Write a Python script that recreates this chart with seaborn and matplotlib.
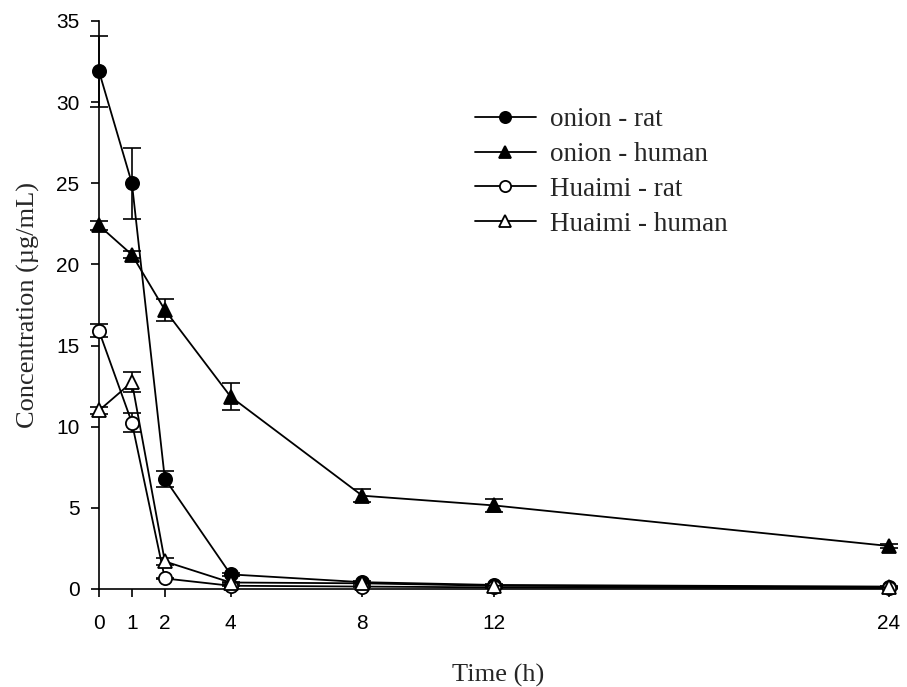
import numpy as np
import pandas as pd
import matplotlib
matplotlib.use("Agg")
import matplotlib.pyplot as plt
import seaborn as sns

# Sampling times (h)
time_h = [0, 1, 2, 4, 8, 12, 24]

# Mean plasma concentration (µg/mL) and SD for each group
onion_rat = [31.9, 25.0, 6.8, 0.9, 0.42, 0.25, 0.15]
onion_rat_sd = [2.2, 2.2, 0.5, 0.1, 0.05, 0.03, 0.02]

onion_human = [22.4, 20.6, 17.2, 11.85, 5.75, 5.15, 2.65]
onion_human_sd = [0.3, 0.2, 0.7, 0.85, 0.4, 0.4, 0.12]

huaimi_rat = [15.9, 10.25, 0.65, 0.2, 0.15, 0.1, 0.05]
huaimi_rat_sd = [0.4, 0.6, 0.05, 0.03, 0.02, 0.02, 0.01]

huaimi_human = [11.0, 12.75, 1.7, 0.4, 0.35, 0.2, 0.1]
huaimi_human_sd = [0.2, 0.6, 0.2, 0.05, 0.04, 0.03, 0.02]

labels = ["onion - rat", "onion - human", "Huaimi - rat", "Huaimi - human"]
series = [onion_rat, onion_human, huaimi_rat, huaimi_human]
sds = [onion_rat_sd, onion_human_sd, huaimi_rat_sd, huaimi_human_sd]
markers = ["o", "^", "o", "^"]
faces = ["black", "black", "white", "white"]

x_ticks = [0, 1, 2, 4, 8, 12, 24]
y_ticks = [0, 5, 10, 15, 20, 25, 30, 35]

sns.set_theme(style="white")
plt.rcParams["font.family"] = ["Liberation Sans", "DejaVu Sans"]

fig = plt.figure(figsize=(9.07, 6.87), dpi=100)
ax = fig.add_axes([99 / 907, 1 - 589 / 687, (897 - 99) / 907, (589 - 21) / 687])

for lab, y, sd, m, fc in zip(labels, series, sds, markers, faces):
    df = pd.DataFrame({"t": time_h, "c": y})
    eb = ax.errorbar(time_h, y, yerr=sd, fmt="none", ecolor="black",
                     elinewidth=1.2, capsize=6.5, capthick=1.2, zorder=2)
    for art in eb.lines[1] + eb.lines[2]:
        art.set_clip_on(False)
    sns.lineplot(data=df, x="t", y="c", ax=ax, color="black", linewidth=1.3,
                 marker=m, markersize=9.5, markerfacecolor=fc,
                 markeredgecolor="black", markeredgewidth=1.3,
                 label=lab, zorder=3, clip_on=False)

ax.set_xlim(0, 24.25)
ax.set_ylim(0, 35)
ax.set_xticks(x_ticks)
ax.set_yticks(y_ticks)
ax.tick_params(axis="both", which="both", direction="out", length=6,
               width=1.2, color="black", labelsize=15, labelcolor="black",
               bottom=True, left=True)
ax.tick_params(axis="x", pad=12)
ax.tick_params(axis="y", pad=8)
for side in ("top", "right"):
    ax.spines[side].set_visible(False)
for side in ("left", "bottom"):
    ax.spines[side].set_color("black")
    ax.spines[side].set_linewidth(1.2)

serif = ["Liberation Serif", "DejaVu Serif"]
ax.set_xlabel("Time (h)", fontsize=19, family=serif, labelpad=22)
ax.set_ylabel("Concentration (\u00b5g/mL)", fontsize=19, family=serif, labelpad=12)

leg = ax.legend(loc="upper left", bbox_to_anchor=(0.471, 0.848), frameon=False,
                prop={"family": serif, "size": 19.5}, handlelength=2.26,
                handletextpad=0.5, labelspacing=0.36, borderaxespad=0,
                borderpad=0, markerscale=0.85)

fig.savefig("out.png", dpi=100)
